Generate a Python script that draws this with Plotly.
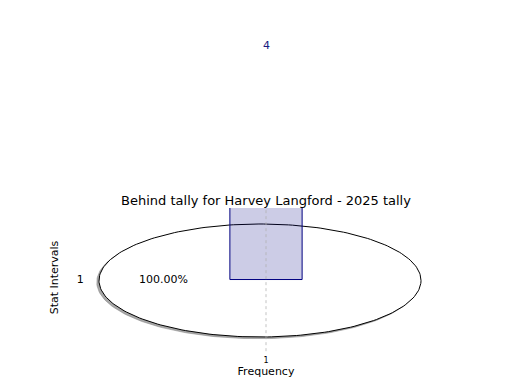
import numpy as np
import plotly.graph_objects as go

# ---- data ----
title_text = "Behind tally for Harvey Langford - 2025 tally"
bar_categories = ["1"]
bar_values = [4]
bar_base = [1]
pie_values = [1]
x_label = "Frequency"
y_label = "Stat Intervals"
y_tick_vals = [1]
y_tick_labels = ["1"]

FONT = "DejaVu Sans"

fig = go.Figure()

# ---- pie (drawn as elliptical wedges, since the axes are stretched) ----
total = float(sum(pie_values))
shadow_dx, shadow_dy = -0.014, -0.03
start = 0.0
label_x, label_y, label_t = [], [], []
wedges = []
for v in pie_values:
    frac = v / total
    theta = np.linspace(start, start + 2 * np.pi * frac, 240)
    if frac < 1:
        xs = np.concatenate([[0], np.cos(theta), [0]])
        ys = np.concatenate([[0], np.sin(theta), [0]])
    else:
        xs, ys = np.cos(theta), np.sin(theta)
    wedges.append((xs, ys))
    mid = start + np.pi * frac
    label_x.append(0.6 * np.cos(mid))
    label_y.append(0.6 * np.sin(mid))
    label_t.append(f"{frac * 100:.2f}%")
    start += 2 * np.pi * frac

for xs, ys in wedges:
    fig.add_trace(go.Scatter(x=xs + shadow_dx, y=ys + shadow_dy, mode="lines",
                             fill="toself", fillcolor="rgba(130,130,130,0.7)",
                             line=dict(color="rgba(130,130,130,0.5)", width=1),
                             hoverinfo="skip", showlegend=False,
                             xaxis="x", yaxis="y"))
for xs, ys in wedges:
    fig.add_trace(go.Scatter(x=xs, y=ys, mode="lines", fill="toself",
                             fillcolor="white", line=dict(color="black", width=1),
                             hoverinfo="skip", showlegend=False,
                             xaxis="x", yaxis="y"))
fig.add_trace(go.Scatter(x=label_x, y=label_y, mode="text", text=label_t,
                         textposition="middle center",
                         textfont=dict(family=FONT, size=11, color="black"),
                         hoverinfo="skip", showlegend=False,
                         xaxis="x", yaxis="y"))

# ---- bar ----
fig.add_trace(go.Bar(x=bar_categories, y=bar_values, base=bar_base, width=0.21,
                     marker=dict(color="rgba(0,0,128,0.2)",
                                 line=dict(color="navy", width=1)),
                     hoverinfo="skip", showlegend=False, xaxis="x2", yaxis="y2"))

for i, (c, v) in enumerate(zip(bar_categories, bar_values)):
    fig.add_annotation(x=i, xref="x2", y=2.166, yref="paper", text=str(v),
                       showarrow=False, yanchor="middle",
                       font=dict(family=FONT, size=11, color="#1a1a80"))
    fig.add_shape(type="line", xref="x2", yref="paper", x0=i, x1=i, y0=-0.03, y1=1,
                  line=dict(color="rgba(175,175,175,0.75)", width=1, dash="dot"),
                  layer="above")

fig.update_layout(
    width=520, height=390,
    margin=dict(l=94, r=82, t=208, b=43),
    paper_bgcolor="white", plot_bgcolor="rgba(0,0,0,0)",
    font=dict(family=FONT, size=11, color="black"),
    hovermode=False,
    title=dict(text=title_text, x=0.5, xref="paper", xanchor="center",
               y=1 - 200 / 390, yref="container", yanchor="middle",
               font=dict(family=FONT, size=13, color="black")),
    xaxis=dict(range=[-1.031, 1.1055], visible=False, fixedrange=True),
    yaxis=dict(range=[-1.177, 1.283], visible=False, fixedrange=True),
    xaxis2=dict(type="category", range=[-0.5, 0.5], overlaying="x", side="bottom",
                showgrid=False, zeroline=False, showline=False,
                ticks="outside", ticklen=5, tickcolor="rgba(0,0,0,0)",
                tickfont=dict(family=FONT, size=8, color="black"),
                title=dict(text=x_label, standoff=2,
                           font=dict(family=FONT, size=11, color="black"))),
    yaxis2=dict(range=[0.029, 2.029], overlaying="y", side="left",
                tickvals=y_tick_vals, ticktext=y_tick_labels,
                showgrid=False, zeroline=False, showline=False,
                ticks="outside", ticklen=7, tickcolor="rgba(0,0,0,0)",
                tickfont=dict(family=FONT, size=11, color="black"),
                title=dict(text=y_label, standoff=15,
                           font=dict(family=FONT, size=11, color="black"))),
)

fig.write_html("out.html", config={"displayModeBar": False},
               post_script="document.body.style.margin='0px';document.body.style.padding='0px';")
